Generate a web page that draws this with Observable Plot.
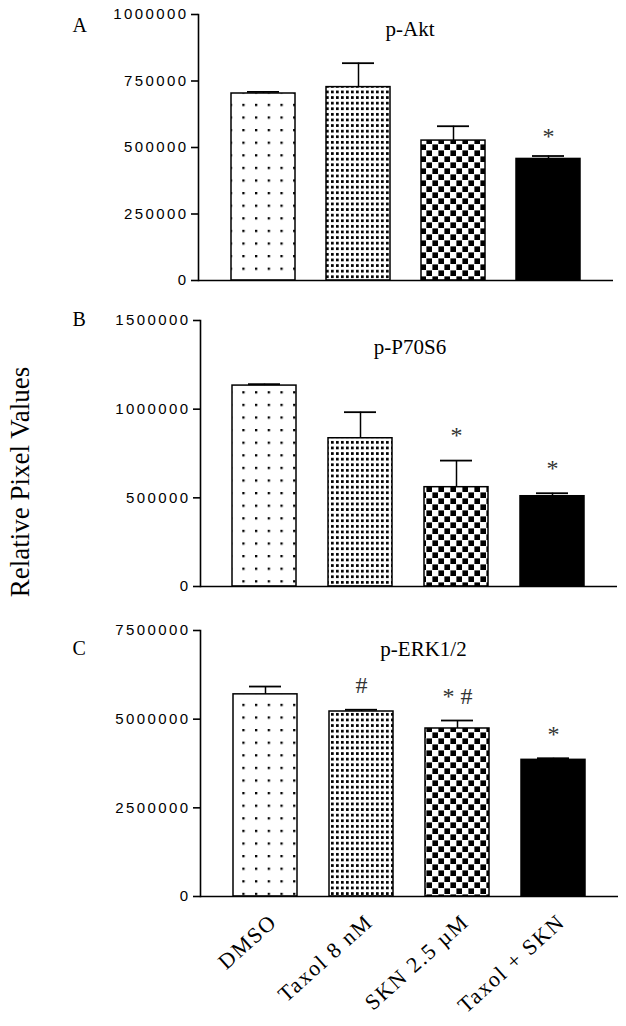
<!DOCTYPE html>
<html>
<head>
<meta charset="utf-8">
<script src="https://cdn.jsdelivr.net/npm/d3@7"></script>
<script src="https://cdn.jsdelivr.net/npm/@observablehq/plot@0.6"></script>
<style>
  html, body { margin: 0; padding: 0; background: #fff; }
  #wrap { position: relative; width: 626px; height: 1026px; overflow: hidden; background: #fff; }
  .panel { position: absolute; left: 0; }
  #ylab {
    position: absolute; left: 20px; top: 482px;
    transform: translate(-50%, -50%) rotate(-90deg);
    white-space: nowrap; font-family: "Liberation Serif", "Times New Roman", serif;
    font-size: 27px; line-height: 1; color: #000;
  }
</style>
</head>
<body>
<div id="wrap">
  <svg width="0" height="0" style="position:absolute">
    <defs>
      <pattern id="dotsSparse" patternUnits="userSpaceOnUse" width="12.7" height="12.6" x="1" y="3">
        <rect width="12.7" height="12.6" fill="white"></rect>
        <rect x="0" y="0" width="2.3" height="2.3" fill="black"></rect>
      </pattern>
      <pattern id="dotsDense" patternUnits="userSpaceOnUse" width="5" height="5.6">
        <rect width="5" height="5.6" fill="white"></rect>
        <rect x="1" y="1" width="2.7" height="2.7" fill="black"></rect>
      </pattern>
      <pattern id="checker" patternUnits="userSpaceOnUse" width="12" height="12">
        <rect width="12" height="12" fill="white"></rect>
        <rect x="0.4" y="0.4" width="5.6" height="5.6" fill="black"></rect>
        <rect x="6.4" y="6.4" width="5.6" height="5.6" fill="black"></rect>
      </pattern>
    </defs>
  </svg>
</div>
<script>
// ---------- data ----------
const categories = ["DMSO", "Taxol 8 nM", "SKN 2.5 µM", "Taxol + SKN"];

const aktMeans  = [703000, 727000, 526000, 457000];
const aktErrors = [6000, 90000, 54000, 11000];
const aktNotes  = ["", "", "", "*"];
const aktTicks  = [0, 250000, 500000, 750000, 1000000];

const p70Means  = [1133000, 836000, 560000, 509000];
const p70Errors = [8000, 147000, 150000, 17000];
const p70Notes  = ["", "", "*", "*"];
const p70Ticks  = [0, 500000, 1000000, 1500000];

const erkMeans  = [5700000, 5216000, 4737000, 3853000];
const erkErrors = [220000, 50000, 225000, 45000];
const erkNotes  = ["", "#", "* #", "*"];
const erkTicks  = [0, 2500000, 5000000, 7500000];

const panelLetters = ["A", "B", "C"];
const panelTitles  = ["p-Akt", "p-P70S6", "p-ERK1/2"];
const yTitle = "Relative Pixel Values";

// ---------- styling ----------
const serif = "Liberation Serif, Times New Roman, serif";
const sans = "Liberation Sans, Arial, sans-serif";
const fills = ["url(#dotsSparse)", "url(#dotsDense)", "url(#checker)", "black"];

const panels = [
  {letter: panelLetters[0], title: panelTitles[0], means: aktMeans, errors: aktErrors, notes: aktNotes, ticks: aktTicks,
   top: 0, height: 300, mt: 14, mb: 20, ml: 198, mr: 13, titleDx: 4, titleDy: 7, letterDx: -126, letterDy: 3, noteDy: -20, xLabels: false},
  {letter: panelLetters[1], title: panelTitles[1], means: p70Means, errors: p70Errors, notes: p70Notes, ticks: p70Ticks,
   top: 300, height: 300, mt: 20, mb: 14, ml: 200, mr: 9, titleDx: 1, titleDy: 19, letterDx: -128, letterDy: -9, noteDy: -25, xLabels: false},
  {letter: panelLetters[2], title: panelTitles[2], means: erkMeans, errors: erkErrors, notes: erkNotes, ticks: erkTicks,
   top: 600, height: 426, mt: 30, mb: 130, ml: 200, mr: 8, titleDx: 14, titleDy: 11, letterDx: -128, letterDy: 10, noteDy: -24, xLabels: true}
];

function makePanel(p) {
  const data = categories.map((c, i) => ({cat: c, value: p.means[i], top: p.means[i] + p.errors[i], note: p.notes[i]}));
  const m = [];
  categories.forEach((c, i) => {
    m.push(Plot.barY([data[i]], {x: "cat", y: "value", fill: fills[i], stroke: "black", strokeWidth: 1.5}));
  });
  m.push(Plot.ruleX(data, {x: "cat", y1: "value", y2: "top", stroke: "black", strokeWidth: 1.5}));
  m.push(Plot.tickY(data, {x: "cat", y: "top", stroke: "black", strokeWidth: 1.8, inset: 16}));
  m.push(Plot.ruleY([0], {stroke: "black", strokeWidth: 1.6}));
  m.push(Plot.frame({anchor: "left", stroke: "black", strokeWidth: 1.6}));
  m.push(Plot.axisY(p.ticks, {tickSize: 7, tickPadding: 3, tickFormat: d3.format("d"), stroke: "black", strokeWidth: 1.6, fill: "black", fontSize: 15, fontFamily: sans}));
  m.push(Plot.text(data.filter(d => d.note), {x: "cat", y: "top", text: "note", dy: p.noteDy, fontSize: 24, fontFamily: serif, fill: "#333"}));
  m.push(Plot.text([p.title], {text: d => d, frameAnchor: "top", dx: p.titleDx, dy: p.titleDy, fontSize: 21, fontFamily: serif, fill: "black", ariaLabel: "panel-title"}));
  m.push(Plot.text([p.letter], {text: d => d, frameAnchor: "top-left", dx: p.letterDx, dy: p.letterDy, fontSize: 20, fontFamily: serif, fill: "black"}));
  if (p.xLabels) {
    m.push(Plot.axisX({tickSize: 0, tickPadding: 22, tickRotate: -42, fontSize: 22, fontFamily: serif, fill: "black", dx: 8}));
  }
  const xOpts = {domain: categories, paddingInner: 0.33, paddingOuter: 0.335, label: null};
  if (!p.xLabels) xOpts.axis = null;
  const svg = Plot.plot({
    width: 626,
    height: p.height,
    marginTop: p.mt,
    marginBottom: p.mb,
    marginLeft: p.ml,
    marginRight: p.mr,
    style: {background: "white", color: "black", fontFamily: sans, fontSize: "15px", overflow: "visible"},
    x: xOpts,
    y: {domain: [0, p.ticks[p.ticks.length - 1]], label: null},
    marks: m
  });
  d3.select(svg).selectAll('g[aria-label="y-axis tick label"] text').attr("letter-spacing", "2.4px");
  d3.select(svg).selectAll('g[aria-label="panel-title"] text').attr("letter-spacing", "2.3px");
  d3.select(svg).selectAll('g[aria-label="x-axis tick label"] text').attr("letter-spacing", "1.6px");
  const holder = document.createElement("div");
  holder.className = "panel";
  holder.style.top = p.top + "px";
  holder.appendChild(svg);
  return holder;
}

const wrap = document.getElementById("wrap");
panels.forEach(p => wrap.appendChild(makePanel(p)));
const yl = document.createElement("div");
yl.id = "ylab";
yl.textContent = yTitle;
wrap.appendChild(yl);
</script>
</body>
</html>
